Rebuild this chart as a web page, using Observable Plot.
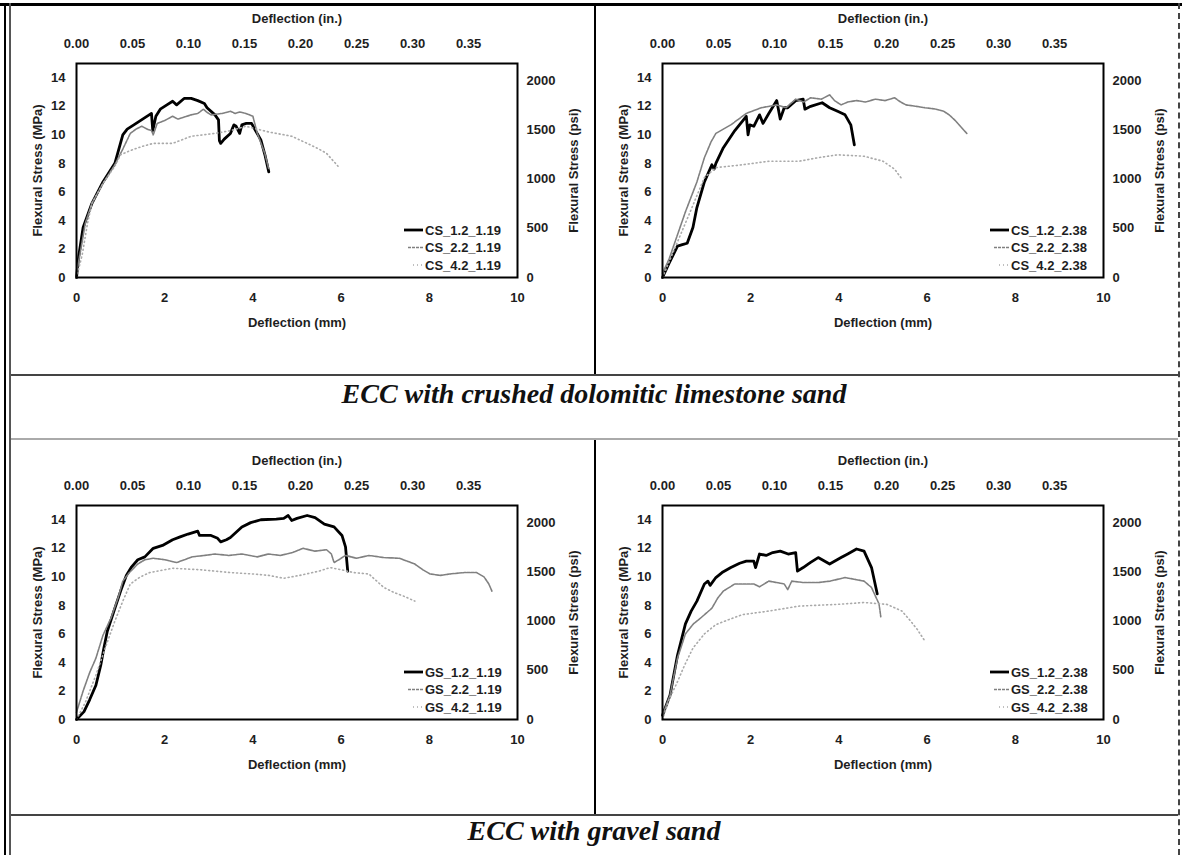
<!DOCTYPE html>
<html><head><meta charset="utf-8">
<script src="https://cdn.jsdelivr.net/npm/d3@7"></script>
<script src="https://cdn.jsdelivr.net/npm/@observablehq/plot@0.6"></script>
<style>
body{margin:0;background:#fff;}
#page{position:relative;width:1182px;height:855px;overflow:hidden;background:#fff;}
.rule{position:absolute;}
.panel{position:absolute;}
.title{position:absolute;left:10px;width:1168px;text-align:center;font-family:"Liberation Serif","Times New Roman",serif;font-weight:bold;font-style:italic;font-size:28px;line-height:30px;color:#111;}
</style></head><body><div id="page"></div>
<script>
// ---------- data ----------
const MM_PER_IN = 25.4;
const PSI_PER_MPA = 145.038;
const mmTicks = [0, 2, 4, 6, 8, 10];
const inTicks = [0.00, 0.05, 0.10, 0.15, 0.20, 0.25, 0.30, 0.35];
const mpaTicks = [0, 2, 4, 6, 8, 10, 12, 14];
const psiTicks = [0, 500, 1000, 1500, 2000];
const sectionTitles = ["ECC with crushed dolomitic limestone sand", "ECC with gravel sand"];

const names_CS_119 = ["CS_1.2_1.19", "CS_2.2_1.19", "CS_4.2_1.19"];
const names_CS_238 = ["CS_1.2_2.38", "CS_2.2_2.38", "CS_4.2_2.38"];
const names_GS_119 = ["GS_1.2_1.19", "GS_2.2_1.19", "GS_4.2_1.19"];
const names_GS_238 = ["GS_1.2_2.38", "GS_2.2_2.38", "GS_4.2_2.38"];

// [deflection mm, flexural stress MPa]
const CS_1_2_1_19 = [[0,0],[0.05,1.5],[0.15,3.5],[0.35,5.2],[0.6,6.7],[0.87,8.0],[1.05,10.0],[1.15,10.4],[1.3,10.7],[1.5,11.1],[1.7,11.5],[1.73,10.3],[1.8,11.3],[1.9,11.8],[2.05,12.1],[2.18,12.35],[2.27,12.1],[2.44,12.55],[2.6,12.55],[2.75,12.4],[2.9,12.2],[2.96,11.9],[3.14,11.4],[3.22,11.05],[3.24,9.6],[3.27,9.4],[3.35,9.7],[3.49,10.1],[3.57,10.7],[3.62,10.6],[3.7,10.1],[3.75,10.7],[3.85,10.8],[3.97,10.8],[4.05,10.35],[4.18,9.65],[4.28,8.5],[4.36,7.4]];
const CS_2_2_1_19 = [[0,0.3],[0.1,2],[0.2,3.8],[0.35,5.2],[0.6,6.6],[0.87,7.9],[1.05,9.0],[1.22,10.1],[1.35,10.4],[1.48,10.6],[1.6,10.4],[1.7,10.3],[1.74,10.0],[1.83,10.8],[2.0,11.0],[2.18,11.3],[2.3,11.1],[2.4,11.2],[2.6,11.4],[2.75,11.5],[2.88,11.8],[2.95,11.6],[3.05,11.4],[3.3,11.5],[3.49,11.65],[3.6,11.5],[3.7,11.6],[3.84,11.5],[4.0,11.3],[4.1,10.1],[4.27,8.7],[4.36,7.6]];
const CS_4_2_1_19 = [[0,0],[0.13,1.6],[0.25,3.8],[0.35,5.2],[0.6,6.6],[0.87,7.8],[1.0,8.6],[1.22,8.9],[1.5,9.2],[1.74,9.4],[2.18,9.4],[2.6,9.9],[3.14,10.1],[3.5,10.3],[3.84,10.6],[4.36,10.2],[4.88,9.9],[5.23,9.4],[5.5,9.0],[5.67,8.7],[5.93,7.8]];

const CS_1_2_2_38 = [[0,0],[0.15,1.0],[0.34,2.2],[0.45,2.3],[0.56,2.4],[0.69,3.5],[0.78,4.9],[0.95,6.7],[1.12,7.9],[1.17,7.6],[1.21,8.0],[1.38,9.1],[1.64,10.3],[1.9,11.3],[1.94,10.0],[1.98,10.7],[2.07,10.6],[2.2,11.4],[2.28,10.8],[2.41,11.5],[2.59,12.4],[2.67,11.1],[2.76,11.9],[2.84,11.9],[3.02,12.4],[3.19,12.5],[3.23,11.8],[3.36,12.0],[3.62,12.25],[3.79,11.9],[3.97,11.65],[4.14,11.4],[4.27,10.7],[4.35,9.3]];
const CS_2_2_2_38 = [[0,0.3],[0.15,1.3],[0.34,3.0],[0.52,4.6],[0.78,6.7],[0.95,8.4],[1.1,9.5],[1.21,10.1],[1.55,10.7],[1.9,11.5],[2.24,11.9],[2.59,12.1],[2.8,11.9],[3.02,12.5],[3.2,12.3],[3.36,12.6],[3.6,12.5],[3.79,12.8],[3.9,12.4],[4.05,12.1],[4.2,12.3],[4.4,12.4],[4.6,12.3],[4.83,12.5],[5.05,12.4],[5.26,12.6],[5.4,12.3],[5.52,12.1],[5.75,12.0],[5.95,11.9],[6.2,11.8],[6.38,11.65],[6.5,11.4],[6.64,11.0],[6.9,10.1]];
const CS_4_2_2_38 = [[0,0],[0.34,2.5],[0.6,4.4],[0.95,7.0],[1.21,7.7],[1.81,7.9],[2.41,8.15],[3.1,8.15],[3.53,8.4],[3.97,8.6],[4.57,8.5],[5.0,8.15],[5.26,7.6],[5.43,6.9]];

const GS_1_2_1_19 = [[0,0],[0.17,0.55],[0.3,1.4],[0.44,2.4],[0.55,3.8],[0.62,5.0],[0.7,6.2],[0.87,7.8],[1.0,9.0],[1.13,10.1],[1.25,10.7],[1.39,11.2],[1.55,11.4],[1.74,12.0],[1.95,12.2],[2.18,12.6],[2.35,12.8],[2.53,13.0],[2.75,13.2],[2.79,12.9],[3.05,12.9],[3.2,12.7],[3.27,12.45],[3.4,12.6],[3.49,12.75],[3.75,13.5],[3.95,13.8],[4.18,14.0],[4.53,14.05],[4.7,14.1],[4.8,14.3],[4.88,13.95],[5.0,14.1],[5.23,14.3],[5.41,14.15],[5.62,13.7],[5.84,13.5],[6.02,12.9],[6.1,12.1],[6.15,10.4]];
const GS_2_2_1_19 = [[0,0.5],[0.15,2.0],[0.3,3.3],[0.44,4.3],[0.6,5.9],[0.78,7.1],[0.95,8.6],[1.05,9.7],[1.2,10.3],[1.39,10.9],[1.55,11.2],[1.74,11.3],[2.0,11.2],[2.27,11.0],[2.45,11.2],[2.62,11.4],[2.9,11.5],[3.14,11.6],[3.45,11.5],[3.75,11.6],[4.1,11.4],[4.35,11.6],[4.62,11.5],[4.9,11.7],[5.14,12.0],[5.4,11.8],[5.67,11.9],[5.78,11.6],[5.84,11.0],[5.95,11.2],[6.1,11.5],[6.35,11.3],[6.63,11.5],[6.97,11.35],[7.32,11.3],[7.5,11.1],[7.67,10.9],[7.85,10.5],[8.02,10.2],[8.25,10.1],[8.46,10.2],[8.8,10.3],[9.07,10.3],[9.24,10.0],[9.35,9.5],[9.42,9.0]];
const GS_4_2_1_19 = [[0,0],[0.2,1.2],[0.44,3.1],[0.65,5.0],[0.87,6.9],[1.05,8.3],[1.22,9.5],[1.45,10.0],[1.66,10.3],[2.18,10.6],[2.79,10.5],[3.49,10.3],[4.0,10.2],[4.36,10.1],[4.7,9.9],[5.06,10.1],[5.5,10.4],[5.75,10.65],[6.0,10.5],[6.28,10.3],[6.63,10.2],[6.97,9.25],[7.2,8.9],[7.41,8.66],[7.67,8.3]];

const GS_1_2_2_38 = [[0,0.3],[0.17,1.7],[0.34,4.5],[0.52,6.7],[0.65,7.6],[0.78,8.3],[0.95,9.5],[1.03,9.7],[1.08,9.4],[1.21,9.95],[1.35,10.3],[1.55,10.65],[1.75,10.95],[1.9,11.1],[2.07,11.1],[2.11,10.65],[2.2,11.6],[2.35,11.5],[2.5,11.7],[2.67,11.8],[2.85,11.6],[3.02,11.7],[3.06,10.4],[3.19,10.65],[3.35,11.0],[3.53,11.35],[3.79,10.9],[4.05,11.35],[4.2,11.6],[4.4,11.95],[4.57,11.8],[4.74,10.65],[4.87,8.8]];
const GS_2_2_2_38 = [[0,0.3],[0.17,1.7],[0.34,4.3],[0.52,6.0],[0.7,6.7],[0.86,7.1],[1.12,7.8],[1.25,8.5],[1.38,9.0],[1.64,9.5],[2.07,9.5],[2.2,9.3],[2.41,9.7],[2.76,9.5],[2.84,9.1],[2.93,9.7],[3.2,9.6],[3.53,9.6],[3.8,9.7],[4.14,9.95],[4.4,9.8],[4.57,9.7],[4.74,9.25],[4.91,8.1],[4.95,7.2]];
const GS_4_2_2_38 = [[0,0],[0.15,1.4],[0.34,2.65],[0.5,3.8],[0.69,5.0],[0.95,6.0],[1.21,6.65],[1.5,7.0],[1.81,7.35],[2.41,7.6],[3.1,7.95],[3.97,8.07],[4.57,8.2],[5.09,8.07],[5.43,7.6],[5.6,7.0],[5.78,6.3],[5.95,5.5]];

// ---------- layout ----------
const page = document.getElementById("page");
function rule(css) { const d = document.createElement("div"); d.className = "rule"; Object.assign(d.style, css); page.appendChild(d); }
rule({left:"0px", top:"3px", width:"1182px", height:"3px", background:"#000"});
rule({left:"4px", top:"3px", width:"2px", height:"852px", background:"#000"});
rule({left:"9px", top:"3px", width:"2px", height:"852px", background:"#555"});
rule({left:"1178px", top:"3px", width:"0px", height:"852px", borderLeft:"2px dashed #444"});
rule({left:"594px", top:"6px", width:"1.5px", height:"369px", background:"#000"});
rule({left:"11px", top:"374px", width:"1167px", height:"2px", background:"#444"});
rule({left:"11px", top:"438px", width:"1167px", height:"2px", background:"#aaa"});
rule({left:"594px", top:"440px", width:"1.5px", height:"374px", background:"#000"});
rule({left:"11px", top:"814px", width:"1167px", height:"2px", background:"#444"});

[[sectionTitles[0], 379], [sectionTitles[1], 816]].forEach(([t, top]) => {
  const d = document.createElement("div"); d.className = "title"; d.style.top = top + "px"; d.textContent = t; page.appendChild(d);
});

const W = 580, H = 340, ML = 66, MR = 73, MT = 63, MB = 63;
const FONT = "'Liberation Sans', Arial, sans-serif";
const seriesStyles = [
  {stroke: "#000", strokeWidth: 2.8},
  {stroke: "#808080", strokeWidth: 1.6, strokeDasharray: "3,1"},
  {stroke: "#aaa", strokeWidth: 1.6, strokeDasharray: "1,3", strokeLinecap: "round"}
];
const axisText = {fontFamily: FONT, fontSize: 13, fontWeight: "bold", fill: "#1e1e1e", textAnchor: "middle"};

function panel(series, names, left, top) {
  const plot = Plot.plot({
    width: W, height: H, marginLeft: ML, marginRight: MR, marginTop: MT, marginBottom: MB,
    style: {fontFamily: FONT, fontSize: "13px", fontWeight: "bold", color: "#1e1e1e", background: "transparent", overflow: "visible"},
    x: {domain: [0, 10]},
    y: {domain: [0, 15]},
    marks: [
      Plot.axisX(mmTicks, {anchor: "bottom", tickSize: 0, tickPadding: 15, label: null}),
      Plot.axisX(inTicks.map(d => d * MM_PER_IN), {anchor: "top", tickSize: 0, tickPadding: 16, label: null, tickFormat: d => (d / MM_PER_IN).toFixed(2)}),
      Plot.axisY(mpaTicks, {anchor: "left", tickSize: 0, tickPadding: 11, label: null}),
      Plot.axisY(psiTicks.map(d => d / PSI_PER_MPA), {anchor: "right", tickSize: 0, tickPadding: 9, label: null, tickFormat: d => String(Math.round(d * PSI_PER_MPA))}),
      ...series.map((s, k) => Plot.line(s, {x: d => d[0], y: d => d[1], ...seriesStyles[k]})),
      Plot.frame({stroke: "#000", strokeWidth: 2}),
      Plot.text(["Deflection (mm)"], {text: d => d, frameAnchor: "bottom", dy: 45, lineAnchor: "middle", ...axisText}),
      Plot.text(["Deflection (in.)"], {text: d => d, frameAnchor: "top", dy: -45, lineAnchor: "middle", ...axisText}),
      Plot.text(["Flexural Stress (MPa)"], {text: d => d, frameAnchor: "left", dx: -39, rotate: -90, lineAnchor: "middle", ...axisText}),
      Plot.text(["Flexural Stress (psi)"], {text: d => d, frameAnchor: "right", dx: 56, rotate: -90, lineAnchor: "middle", ...axisText})
    ]
  });
  // legend (inside the frame, bottom right)
  const fr = W - MR, fb = H - MB;
  const g = d3.select(plot).append("g").attr("font-family", FONT).attr("font-size", 13).attr("font-weight", "bold").attr("fill", "#1e1e1e").attr("text-anchor", "start");
  const sampleStart = [113, 109, 104];
  names.forEach((name, i) => {
    const y = fb - 12 - (2 - i) * 17.5;
    const st = seriesStyles[i];
    g.append("line").attr("x1", fr - sampleStart[i]).attr("x2", fr - 94).attr("y1", y).attr("y2", y)
      .attr("stroke", st.stroke).attr("stroke-width", st.strokeWidth).attr("stroke-dasharray", st.strokeDasharray || null);
    g.append("text").attr("x", fr - 92).attr("y", y).attr("dy", "0.35em").attr("text-anchor", "start").text(name);
  });
  const wrap = document.createElement("div");
  wrap.className = "panel";
  wrap.style.left = left + "px"; wrap.style.top = top + "px";
  wrap.appendChild(plot);
  page.appendChild(wrap);
}

panel([CS_1_2_1_19, CS_2_2_1_19, CS_4_2_1_19], names_CS_119, 10, 0);
panel([CS_1_2_2_38, CS_2_2_2_38, CS_4_2_2_38], names_CS_238, 596, 0);
panel([GS_1_2_1_19, GS_2_2_1_19, GS_4_2_1_19], names_GS_119, 10, 442);
panel([GS_1_2_2_38, GS_2_2_2_38, GS_4_2_2_38], names_GS_238, 596, 442);
</script></body></html>
